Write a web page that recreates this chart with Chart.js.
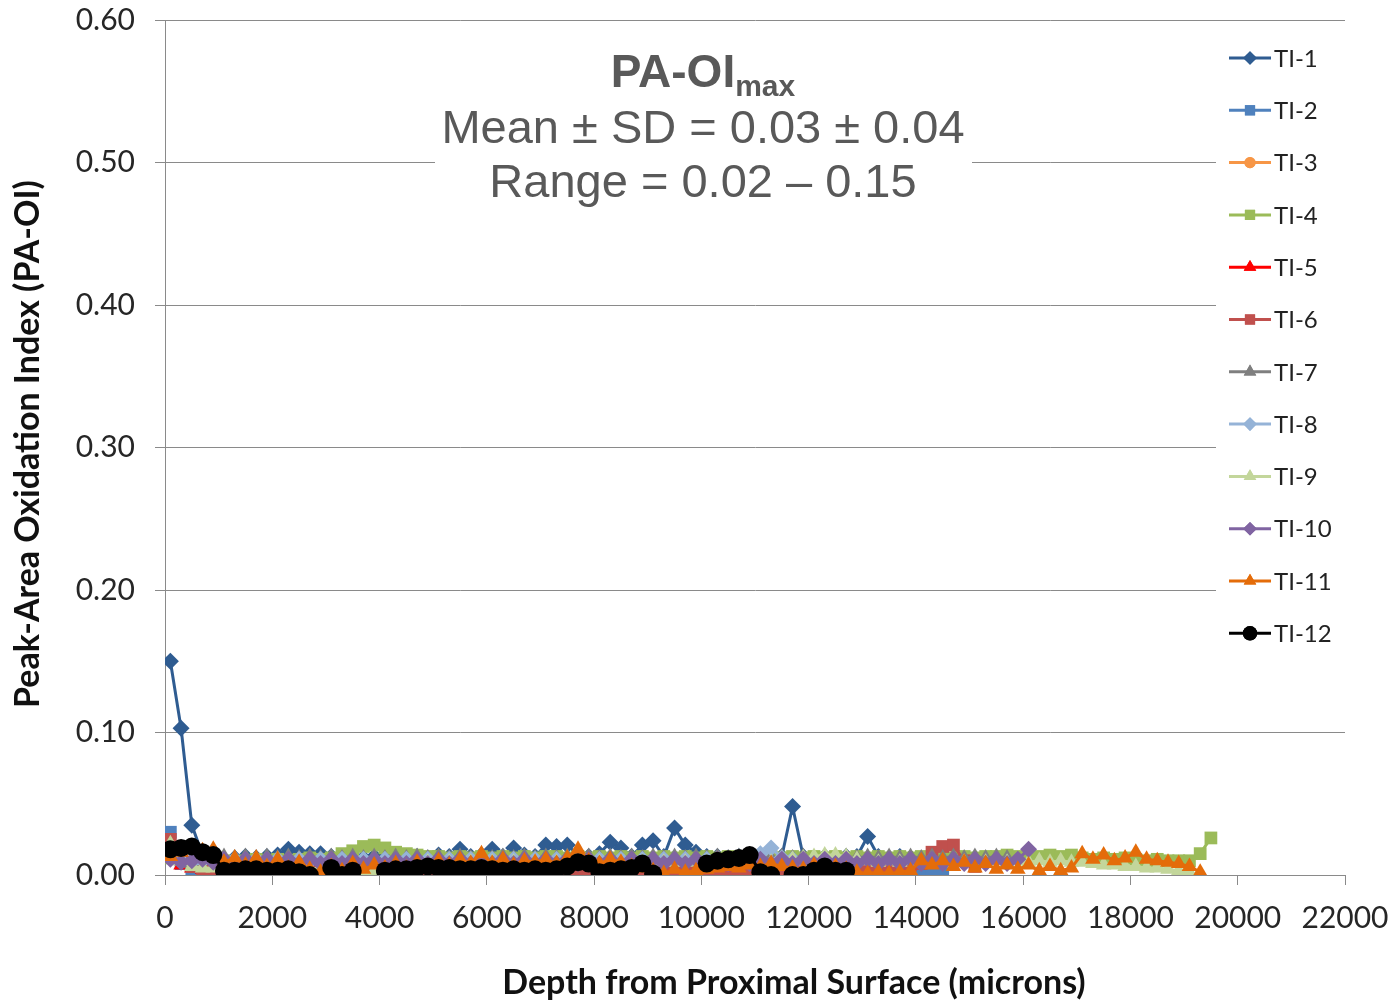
<!DOCTYPE html>
<html lang="en">
<head>
    <meta charset="UTF-8">
    <title>PA-OI max by depth</title>
    <script src="https://cdn.jsdelivr.net/npm/chart.js"></script>
    <style>
        html, body { margin: 0; padding: 0; background: #fff; }
        .wrap { width: 1394px; height: 1003px; position: relative; }
    </style>
</head>
<body>
<div class="wrap"><canvas id="oxChart"></canvas></div>
<script>
// depth of each scan point (microns)
const depth = [
    100, 300, 500, 700, 900, 1100, 1300, 1500, 1700, 1900,
    2100, 2300, 2500, 2700, 2900, 3100, 3300, 3500, 3700, 3900,
    4100, 4300, 4500, 4700, 4900, 5100, 5300, 5500, 5700, 5900,
    6100, 6300, 6500, 6700, 6900, 7100, 7300, 7500, 7700, 7900,
    8100, 8300, 8500, 8700, 8900, 9100, 9300, 9500, 9700, 9900,
    10100, 10300, 10500, 10700, 10900, 11100, 11300, 11500, 11700, 11900,
    12100, 12300, 12500, 12700, 12900, 13100, 13300, 13500, 13700, 13900,
    14100, 14300, 14500, 14700, 14900, 15100, 15300, 15500, 15700, 15900,
    16100, 16300, 16500, 16700, 16900, 17100, 17300, 17500, 17700, 17900,
    18100, 18300, 18500, 18700, 18900, 19100, 19300, 19500
];

const labels = ['TI-1', 'TI-2', 'TI-3', 'TI-4', 'TI-5', 'TI-6', 'TI-7', 'TI-8', 'TI-9', 'TI-10', 'TI-11', 'TI-12'];

const ti1 = [
    0.150, 0.103, 0.035, 0.014, 0.012, 0.011, 0.012, 0.013, 0.012, 0.013,
    0.014, 0.018, 0.016, 0.015, 0.015, 0.013, 0.012, 0.013, 0.012, 0.013,
    0.012, 0.013, 0.012, 0.013, 0.012, 0.014, 0.013, 0.018, 0.013, 0.014,
    0.018, 0.013, 0.019, 0.014, 0.013, 0.021, 0.020, 0.021, 0.014, 0.013,
    0.015, 0.023, 0.019, 0.013, 0.021, 0.024, 0.013, 0.033, 0.021, 0.016,
    0.013, 0.013, 0.012, 0.013, 0.012, 0.013, 0.012, 0.013, 0.048, 0.013,
    0.012, 0.013, 0.012, 0.013, 0.013, 0.027, 0.013, 0.012, 0.013, 0.012
];
const ti2 = [
    0.030, 0.008, 0.004, 0.003, 0.002, 0.003, 0.002, 0.000, 0.001, 0.002,
    0.003, 0.002, 0.003, 0.002, 0.003, 0.002, 0.003, 0.002, 0.003, 0.002,
    0.003, 0.004, 0.003, 0.002, 0.003, 0.004, 0.003, 0.002, 0.003, 0.004,
    0.003, 0.002, 0.003, 0.002, 0.003, 0.004, 0.003, 0.002, 0.003, 0.002,
    0.003, 0.004, 0.003, 0.002, 0.003, 0.002, 0.003, 0.002, 0.003, 0.002,
    0.003, 0.002, 0.003, 0.004, 0.003, 0.002, 0.003, 0.002, 0.003, 0.002,
    0.003, 0.002, 0.003, 0.002, 0.003, 0.002, 0.003, 0.002, 0.003, 0.002,
    0.002, 0.002, 0.001
];
const ti3 = [
    0.021, 0.009, 0.007, 0.006, 0.007, 0.006, 0.005, 0.006, 0.005, 0.006,
    0.005, 0.006, 0.005, 0.006, 0.005, 0.006, 0.005, 0.006, 0.007, 0.006,
    0.005, 0.006, 0.005, 0.006, 0.005, 0.006, 0.005, 0.006, 0.005, 0.006,
    0.005, 0.006, 0.005, 0.006, 0.005, 0.006, 0.005, 0.006, 0.005, 0.006,
    0.005, 0.006, 0.005, 0.006, 0.005, 0.006, 0.005, 0.006, 0.005, 0.006,
    0.005, 0.006, 0.005, 0.006, 0.005, 0.006, 0.005, 0.006, 0.005, 0.004
];
const ti4 = [
    0.012, 0.011, 0.009, 0.008, 0.009, 0.010, 0.009, 0.010, 0.011, 0.010,
    0.011, 0.010, 0.011, 0.012, 0.011, 0.012, 0.015, 0.017, 0.020, 0.021,
    0.019, 0.016, 0.015, 0.014, 0.013, 0.013, 0.012, 0.013, 0.012, 0.013,
    0.012, 0.013, 0.012, 0.013, 0.012, 0.013, 0.013, 0.012, 0.013, 0.012,
    0.013, 0.012, 0.013, 0.012, 0.013, 0.012, 0.013, 0.012, 0.013, 0.012,
    0.013, 0.012, 0.013, 0.012, 0.013, 0.012, 0.013, 0.012, 0.013, 0.012,
    0.013, 0.012, 0.013, 0.012, 0.013, 0.012, 0.013, 0.012, 0.013, 0.012,
    0.013, 0.012, 0.013, 0.012, 0.013, 0.012, 0.013, 0.013, 0.014, 0.013,
    0.014, 0.013, 0.014, 0.013, 0.014, 0.012, 0.011, 0.012, 0.011, 0.012,
    0.011, 0.010, 0.011, 0.010, 0.010, 0.010, 0.015, 0.026
];
const ti5 = [
    0.013, 0.007, 0.005, 0.004, 0.003, 0.004, 0.003, 0.002, 0.003, 0.002,
    0.003, 0.002, 0.003, 0.002, 0.003, 0.002, 0.003, 0.002, 0.003, 0.002,
    0.003, 0.002, 0.003, 0.002, 0.003, 0.002, 0.003, 0.002, 0.003, 0.002,
    0.003, 0.002, 0.003, 0.002, 0.003, 0.002, 0.003, 0.002, 0.003, 0.002,
    0.003, 0.002, 0.003, 0.002, 0.003, 0.002, 0.001, 0.002, 0.000, 0.000,
    0.001, 0.002, 0.003, 0.002, 0.003, 0.002
];
const ti6 = [
    0.025, 0.012, 0.006, 0.004, 0.003, 0.004, 0.003, 0.004, 0.003, 0.004,
    0.003, 0.004, 0.003, 0.004, 0.003, 0.004, 0.003, 0.004, 0.003, 0.004,
    0.003, 0.004, 0.003, 0.004, 0.003, 0.004, 0.003, 0.004, 0.003, 0.004,
    0.003, 0.004, 0.003, 0.004, 0.003, 0.004, 0.003, 0.002, 0.000, 0.000,
    0.002, 0.003, 0.002, 0.003, 0.002, 0.003, 0.002, 0.003, 0.002, 0.003,
    0.002, 0.003, 0.002, 0.003, 0.002, 0.003, 0.002, 0.003, 0.002, 0.003,
    0.002, 0.003, 0.002, 0.003, 0.002, 0.003, 0.004, 0.005, 0.006, 0.007,
    0.008, 0.016, 0.020, 0.021, 0.010, 0.006
];
const ti7 = [
    0.016, 0.010, 0.008, 0.010, 0.012, 0.013, 0.012, 0.013, 0.012, 0.013,
    0.012, 0.013, 0.012, 0.013, 0.012, 0.013, 0.012, 0.013, 0.012, 0.013,
    0.012, 0.013, 0.012, 0.013, 0.012, 0.013, 0.012, 0.013, 0.012, 0.013,
    0.012, 0.013, 0.012, 0.013, 0.012, 0.013, 0.012, 0.013, 0.012, 0.013,
    0.012, 0.013, 0.012, 0.013, 0.012, 0.013, 0.012, 0.013, 0.012, 0.013,
    0.012, 0.013, 0.012, 0.013, 0.012, 0.013, 0.012, 0.013, 0.012, 0.013,
    0.012, 0.013, 0.012, 0.013, 0.012, 0.013, 0.012, 0.013, 0.012, 0.013,
    0.012, 0.013, 0.012, 0.013, 0.012, 0.013, 0.012, 0.013, 0.012
];
const ti8 = [
    0.014, 0.010, 0.009, 0.010, 0.011, 0.010, 0.011, 0.010, 0.011, 0.010,
    0.011, 0.010, 0.011, 0.010, 0.011, 0.010, 0.011, 0.010, 0.011, 0.010,
    0.011, 0.010, 0.011, 0.010, 0.011, 0.010, 0.011, 0.010, 0.011, 0.010,
    0.011, 0.010, 0.011, 0.010, 0.011, 0.010, 0.011, 0.010, 0.011, 0.010,
    0.011, 0.010, 0.011, 0.010, 0.011, 0.010, 0.011, 0.010, 0.011, 0.010,
    0.011, 0.010, 0.011, 0.010, 0.011, 0.015, 0.019, 0.012, 0.011, 0.010
];
const ti9 = [
    0.022, 0.010, 0.006, 0.005, 0.005, 0.004, 0.005, 0.004, 0.005, 0.004,
    0.005, 0.004, 0.005, 0.004, 0.005, 0.004, 0.003, 0.003, 0.002, 0.003,
    0.005, 0.006, 0.007, 0.008, 0.009, 0.010, 0.009, 0.010, 0.009, 0.010,
    0.009, 0.010, 0.009, 0.010, 0.009, 0.010, 0.009, 0.010, 0.009, 0.010,
    0.009, 0.010, 0.009, 0.010, 0.009, 0.010, 0.009, 0.010, 0.009, 0.010,
    0.009, 0.010, 0.009, 0.010, 0.009, 0.010, 0.009, 0.010, 0.011, 0.012,
    0.013, 0.014, 0.014, 0.013, 0.011, 0.010, 0.009, 0.010, 0.009, 0.010,
    0.009, 0.010, 0.009, 0.010, 0.009, 0.010, 0.009, 0.010, 0.009, 0.010,
    0.009, 0.010, 0.009, 0.010, 0.009, 0.009, 0.008, 0.007, 0.007, 0.006,
    0.006, 0.005, 0.005, 0.004, 0.003, 0.002
];
const ti10 = [
    0.011, 0.009, 0.010, 0.011, 0.009, 0.011, 0.008, 0.011, 0.008, 0.011,
    0.008, 0.011, 0.008, 0.011, 0.008, 0.011, 0.008, 0.011, 0.008, 0.011,
    0.008, 0.011, 0.008, 0.011, 0.008, 0.011, 0.008, 0.011, 0.008, 0.011,
    0.008, 0.011, 0.008, 0.011, 0.008, 0.011, 0.008, 0.011, 0.008, 0.011,
    0.008, 0.011, 0.008, 0.011, 0.008, 0.011, 0.008, 0.011, 0.008, 0.011,
    0.008, 0.011, 0.008, 0.011, 0.008, 0.011, 0.008, 0.011, 0.008, 0.011,
    0.008, 0.011, 0.008, 0.011, 0.008, 0.011, 0.008, 0.011, 0.008, 0.011,
    0.008, 0.011, 0.008, 0.011, 0.008, 0.011, 0.008, 0.011, 0.008, 0.011,
    0.018
];
const ti11 = [
    0.013, 0.016, 0.019, 0.017, 0.018, 0.009, 0.012, 0.007, 0.012, 0.006,
    0.011, 0.005, 0.009, 0.004, 0.002, 0.006, 0.003, 0.008, 0.004, 0.007,
    0.005, 0.008, 0.005, 0.009, 0.006, 0.010, 0.007, 0.011, 0.008, 0.015,
    0.008, 0.011, 0.007, 0.010, 0.009, 0.011, 0.008, 0.012, 0.018, 0.010,
    0.008, 0.011, 0.009, 0.006, 0.005, 0.003, 0.001, 0.004, 0.002, 0.003,
    0.004, 0.005, 0.006, 0.005, 0.007, 0.006, 0.008, 0.006, 0.005, 0.004,
    0.007, 0.005, 0.006, 0.004, 0.002, 0.001, 0.002, 0.001, 0.002, 0.003,
    0.010, 0.007, 0.010, 0.006, 0.009, 0.005, 0.008, 0.004, 0.007, 0.004,
    0.007, 0.003, 0.006, 0.003, 0.005, 0.015, 0.011, 0.014, 0.010, 0.012,
    0.016, 0.011, 0.010, 0.009, 0.008, 0.006, 0.002
];
const ti12 = [
    0.018, 0.019, 0.020, 0.016, 0.014, 0.003, 0.003, 0.004, 0.004, 0.003,
    0.003, 0.004, 0.002, 0.000, null, 0.005, 0.000, 0.003, null, null,
    0.003, 0.004, 0.004, 0.005, 0.006, 0.005, 0.005, 0.004, 0.004, 0.005,
    0.004, 0.003, 0.004, 0.003, 0.004, 0.003, 0.004, 0.006, 0.009, 0.008,
    0.002, 0.003, 0.004, 0.005, 0.008, 0.001, null, null, null, null,
    0.008, 0.010, 0.011, 0.012, 0.014, 0.002, 0.000, null, 0.000, 0.000,
    0.003, 0.006, 0.003, 0.003
];

const seriesValues = [ti1, ti2, ti3, ti4, ti5, ti6, ti7, ti8, ti9, ti10, ti11, ti12];
const colors = ['#2f5c91', '#4f81bd', '#f79646', '#9bbb59', '#ff0000', '#c0504d',
                '#7f7f7f', '#95b3d7', '#c3d69b', '#8064a2', '#e46c0a', '#000000'];
const markers = ['rectRot', 'rect', 'circle', 'rect', 'triangle', 'rect',
                 'triangle', 'rectRot', 'triangle', 'rectRot', 'triangle', 'circle'];
const markerSize = [8.5, 9, 7, 9, 9, 9, 9, 8.5, 9, 8.5, 9, 9];

const xTicks = [0, 22000, 2000];   // min, max, step
const yTicks = [0, 0.6, 0.1];

const datasets = labels.map((name, i) => ({
    label: name,
    data: seriesValues[i].map((v, k) => ({ x: depth[k], y: v })),
    borderColor: colors[i],
    backgroundColor: colors[i],
    borderWidth: 3,
    pointStyle: markers[i],
    pointRadius: markerSize[i],
    pointBorderWidth: 0,
    pointBackgroundColor: colors[i],
    tension: 0,
    spanGaps: false,
    order: labels.length - i   // later series sit on top
}));

// white boxes with the stats text and the series key, plus axis titles
const overlay = {
    id: 'overlay',
    afterDraw(chart) {
        const ctx = chart.ctx;
        ctx.save();

        // stats block
        ctx.fillStyle = '#fff';
        ctx.fillRect(435, 35, 537, 172);
        ctx.fillStyle = '#595959';
        ctx.textBaseline = 'alphabetic';
        ctx.font = 'bold 46px "Liberation Sans", Arial, sans-serif';
        const w1 = ctx.measureText('PA-OI').width;
        ctx.font = 'bold 30px "Liberation Sans", Arial, sans-serif';
        const w2 = ctx.measureText('max').width;
        const sx = 703 - (w1 + w2) / 2;
        ctx.textAlign = 'left';
        ctx.font = 'bold 46px "Liberation Sans", Arial, sans-serif';
        ctx.fillText('PA-OI', sx, 87);
        ctx.font = 'bold 30px "Liberation Sans", Arial, sans-serif';
        ctx.fillText('max', sx + w1, 96);
        ctx.textAlign = 'center';
        ctx.font = '47px "Liberation Sans", Arial, sans-serif';
        ctx.fillText('Mean \u00b1 SD = 0.03 \u00b1 0.04', 703, 143);
        ctx.fillText('Range = 0.02 \u2013 0.15', 703, 197);

        // legend
        ctx.fillStyle = '#fff';
        ctx.fillRect(1216, 30, 132, 632);
        chart.data.datasets.forEach((ds, i) => {
            const y = 58 + i * 52.3;
            ctx.strokeStyle = ds.borderColor;
            ctx.lineWidth = 3;
            ctx.beginPath();
            ctx.moveTo(1229, y);
            ctx.lineTo(1271, y);
            ctx.stroke();
            ctx.fillStyle = ds.borderColor;
            Chart.helpers.drawPoint(ctx, {
                pointStyle: ds.pointStyle,
                radius: ds.pointRadius * 0.8,
                rotation: 0,
                borderWidth: 0
            }, 1250, y);
            ctx.fill();
            ctx.fillStyle = '#222';
            ctx.font = '24px Lato, "Open Sans", sans-serif';
            ctx.textAlign = 'left';
            ctx.textBaseline = 'middle';
            ctx.fillText(ds.label, 1274, y + 1);
        });

        // axis titles
        ctx.fillStyle = '#111';
        ctx.font = 'bold 34px Lato, "Open Sans", sans-serif';
        ctx.textAlign = 'center';
        ctx.textBaseline = 'middle';
        ctx.fillText('Depth from Proximal Surface (microns)', 794, 983);
        ctx.translate(28, 444);
        ctx.rotate(-Math.PI / 2);
        ctx.fillText('Peak-Area Oxidation Index (PA-OI)', 0, 0);
        ctx.restore();
    }
};

new Chart(document.getElementById('oxChart'), {
    type: 'line',
    data: { datasets: datasets },
    plugins: [overlay],
    options: {
        responsive: true,
        maintainAspectRatio: false,
        animation: false,
        events: [],
        layout: { padding: { top: 20, right: 49, left: 0, bottom: 0 } },
        plugins: {
            legend: { display: false },
            tooltip: { enabled: false },
            title: { display: false }
        },
        scales: {
            x: {
                type: 'linear',
                min: xTicks[0],
                max: xTicks[1],
                afterFit(scale) {
                    scale.height = 128;
                    scale.paddingLeft = 0;
                    scale.paddingRight = 0;
                },
                grid: {
                    drawOnChartArea: false,
                    drawTicks: true,
                    tickLength: 10,
                    tickColor: '#8a8a8a'
                },
                border: { display: true, color: '#8a8a8a', width: 1 },
                ticks: {
                    stepSize: xTicks[2],
                    padding: 15,
                    color: '#262626',
                    font: { family: 'Lato, "Open Sans", sans-serif', size: 30 },
                    maxRotation: 0,
                    callback: v => String(v)
                }
            },
            y: {
                min: yTicks[0],
                max: yTicks[1],
                afterFit(scale) {
                    scale.width = 165;
                    scale.paddingTop = 0;
                    scale.paddingBottom = 0;
                },
                grid: {
                    color: '#8a8a8a',
                    lineWidth: 1,
                    drawTicks: true,
                    tickLength: 10,
                    tickColor: '#8a8a8a'
                },
                border: { display: true, color: '#8a8a8a', width: 1 },
                ticks: {
                    stepSize: yTicks[2],
                    padding: 20,
                    color: '#262626',
                    font: { family: 'Lato, "Open Sans", sans-serif', size: 30 },
                    callback: v => v.toFixed(2)
                }
            }
        }
    }
});
</script>
</body>
</html>
